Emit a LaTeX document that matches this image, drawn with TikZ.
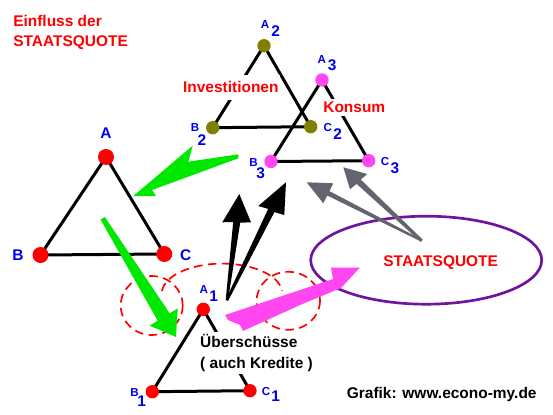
\documentclass[tikz,border=0pt]{standalone}
\usepackage{fontspec}
\setmainfont{Liberation Sans}
\usepackage{tikz}
\definecolor{mred}{RGB}{255,0,0}
\definecolor{mblue}{RGB}{0,0,240}
\definecolor{molive}{RGB}{128,128,0}
\definecolor{mpink}{RGB}{255,70,240}
\definecolor{mgreen}{RGB}{0,232,0}
\definecolor{mgrey}{RGB}{100,100,112}
\definecolor{mpurple}{RGB}{110,20,160}
\tikzset{circ/.style = {fill, circle, inner sep = 0, minimum size = 10pt}}
\tikzset{lbl/.style = {font = {\fontsize{11.6}{15.5}\selectfont\bfseries}, inner sep = 0}}
\tikzset{edge/.style = {line width = 2.25pt}}
\tikzset{ring/.style = {mred, line width = 1.25pt, dash pattern = on 6.5pt off 4pt}}
\newcommand{\vname}[4]{{\fontsize{8.7}{9}\selectfont #1}\kern#4\raisebox{-#3}{#2}}

\begin{document}
\begin{tikzpicture}[x=0.75pt, y=-0.75pt]
    \useasboundingbox (0,0) rectangle (553,414);

    \coordinate (A) at (106,157);
    \coordinate (B) at (40.5,255);
    \coordinate (C) at (164.3,254);
    \coordinate (A1) at (203.3,309.3);
    \coordinate (B1) at (152.3,391.7);
    \coordinate (C1) at (250,390.7);
    \coordinate (A2) at (264,45.7);
    \coordinate (B2) at (212.7,127.7);
    \coordinate (C2) at (310.7,126.7);
    \coordinate (A3) at (322,80);
    \coordinate (B3) at (271,161.5);
    \coordinate (C3) at (368.7,160.7);

    % dashed rings round A1
    \draw [ring] (151.7,305.5) ellipse [x radius=31, y radius=29.5];
    \draw [ring] (288.3,300.8) ellipse [x radius=31.7, y radius=29];
    \draw [ring] (162,291) arc [start angle=185, end angle=355, x radius=60.3, y radius=30];

    \draw [mpurple, line width=2pt] (426.2,260.2) ellipse [x radius=115.5, y radius=44];

    \draw [edge] (A) -- (B) -- (C) -- cycle;
    \draw [edge] (A1) -- (B1) -- (C1) -- cycle;
    \draw [edge] (A2) -- (B2) -- (C2) -- cycle;
    \draw [edge] (A3) -- (B3) -- (C3) -- cycle;

    \node [lbl, text=mred, anchor=north west, align=left] (title) at (13,14.7) {Einfluss der\\STAATSQUOTE};
    \node [lbl, text=mred, fill=white, inner xsep=1pt, inner ysep=5pt, anchor=base] (inv) at (230.8,92.7) {Investitionen};
    \node [lbl, text=mred, fill=white, inner sep=2pt, anchor=base] (kons) at (354.3,112.7) {Konsum};
    \node [lbl, fill=white, inner sep=2pt, anchor=north west, align=left] (surp) at (197.3,331.5) {Überschüsse\\( auch Kredite )};
    \node [lbl, text=mred, anchor=base] (sq) at (440.7,266.3) {STAATSQUOTE};
    \node [lbl, anchor=base] (credit) at (441.7,398.5) {Grafik: www.econo-my.de};

    \node [circ, mred, minimum size=12pt] (dA) at (A) {};
    \node [circ, mred, minimum size=12pt] (dB) at (B) {};
    \node [circ, mred, minimum size=12pt] (dC) at (C) {};
    \node [circ, mred] (dA1) at (A1) {};
    \node [circ, mred] (dB1) at (B1) {};
    \node [circ, mred] (dC1) at (C1) {};
    \node [circ, molive] (dA2) at (A2) {};
    \node [circ, molive] (dB2) at (B2) {};
    \node [circ, molive] (dC2) at (C2) {};
    \node [circ, mpink] (dA3) at (A3) {};
    \node [circ, mpink] (dB3) at (B3) {};
    \node [circ, mpink] (dC3) at (C3) {};

    \node [lbl, text=mblue, anchor=base] (lA) at (106,138.3) {A};
    \node [lbl, text=mblue, anchor=base] (lB) at (18,260) {B};
    \node [lbl, text=mblue, anchor=base] (lC) at (185.8,260) {C};
    \node [lbl, text=mblue, anchor=base west] (lA1) at (199.3,293.3) {\vname{A}{1}{6.3pt}{1pt}};
    \node [lbl, text=mblue, anchor=base west] (lB1) at (130,396) {\vname{B}{1}{8pt}{-1pt}};
    \node [lbl, text=mblue, anchor=base west] (lC1) at (261.7,395) {\vname{C}{1}{5pt}{0.7pt}};
    \node [lbl, text=mblue, anchor=base west] (lA2) at (260.7,28.3) {\vname{A}{2}{5.8pt}{1.5pt}};
    \node [lbl, text=mblue, anchor=base west] (lB2) at (190.7,131.7) {\vname{B}{2}{10pt}{-1.2pt}};
    \node [lbl, text=mblue, anchor=base west] (lC2) at (323.3,131) {\vname{C}{2}{6pt}{1pt}};
    \node [lbl, text=mblue, anchor=base west] (lA3) at (317.3,63.3) {\vname{A}{3}{5.5pt}{1.5pt}};
    \node [lbl, text=mblue, anchor=base west] (lB3) at (249,166.7) {\vname{B}{3}{9.2pt}{-1pt}};
    \node [lbl, text=mblue, anchor=base west] (lC3) at (380.7,165.7) {\vname{C}{3}{6.2pt}{1pt}};

    % green arrows
    \fill [mgreen] (238.3,154.3) -- (188.3,161.7) -- (192.7,145.7) -- (133.3,196) -- (156,196) -- (152,190) -- (238.3,158.3) -- cycle;
    \fill [mgreen] (104.8,217) -- (169.7,313.3) -- (177.7,308.4) -- (176,337) -- (149.7,325.6) -- (157.7,320.7) -- (100.6,219.6) -- cycle;
    % black arrows
    \fill (225.7,300) -- (233.2,222) -- (222.3,222.3) -- (239.3,194) -- (251,222.3) -- (240.2,222.7) -- (228,300) -- cycle;
    \fill (225.8,299.5) -- (268.2,208.9) -- (258.3,206) -- (286,182.3) -- (284.3,215) -- (274.4,212.1) -- (228,301) -- cycle;
    % grey arrows
    \fill [mgrey] (422.2,239.8) -- (329.4,191.1) -- (333.3,183.3) -- (306.7,182.3) -- (323.3,203.3) -- (327.2,195.5) -- (421.2,241.6) -- cycle;
    \fill [mgrey] (422.7,239.6) -- (360.7,179.5) -- (367.3,174) -- (343.3,167.3) -- (350,189.3) -- (356.6,183.9) -- (420.7,241.8) -- cycle;
    % pink arrow
    \fill [mpink] (225,315) -- (333,279) -- (331,267.5) -- (360,267.5) -- (341,288) -- (300,305) -- (243,331) -- (240,325) -- (228,320) -- cycle;
\end{tikzpicture}
\end{document}
